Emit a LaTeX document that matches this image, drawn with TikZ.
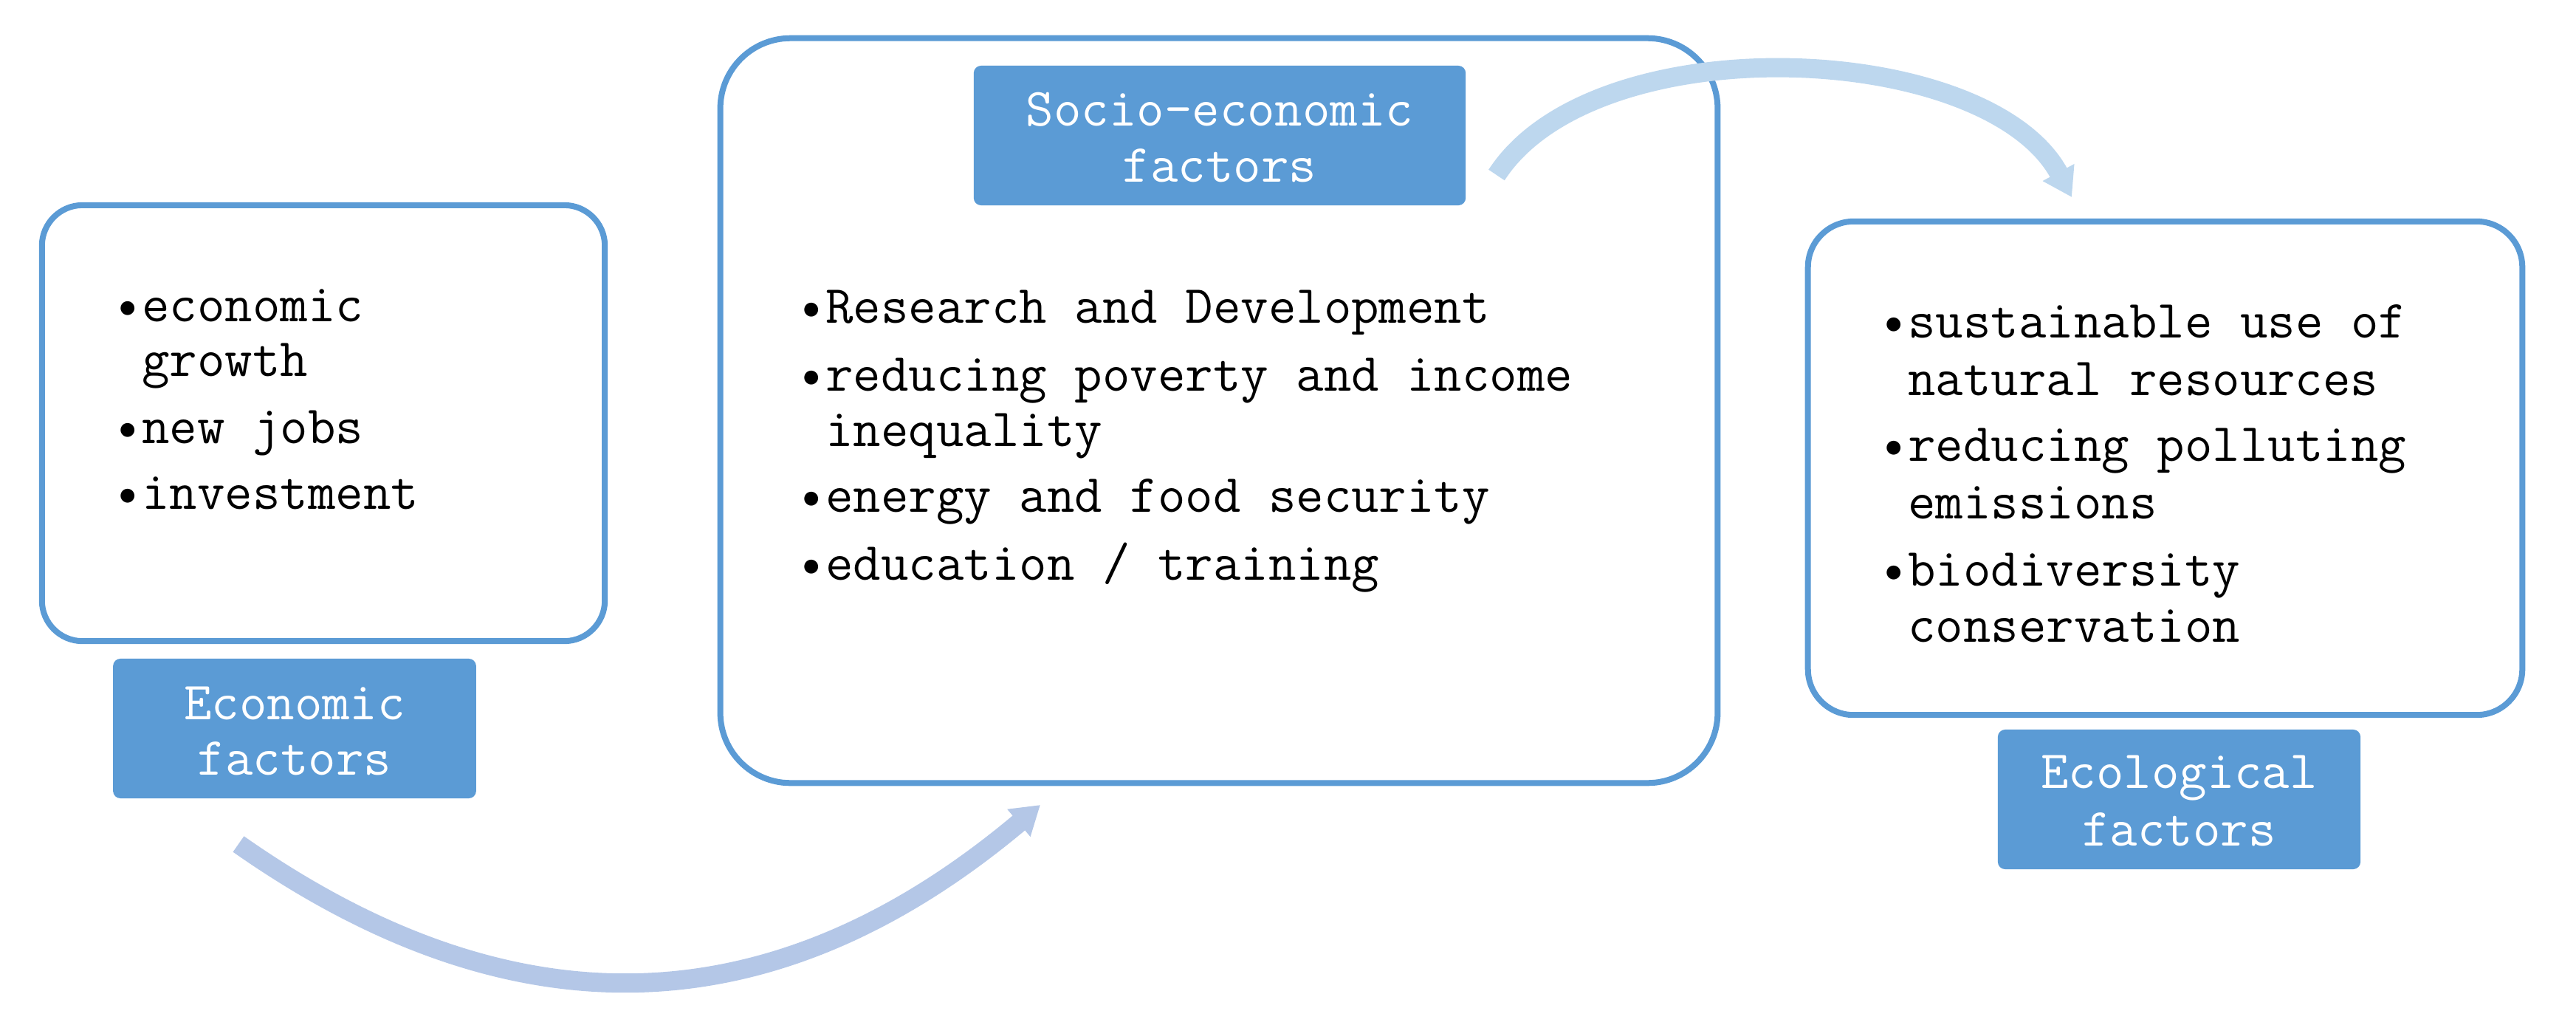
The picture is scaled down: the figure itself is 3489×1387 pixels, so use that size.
\documentclass[tikz,border=0pt]{standalone}
\usepackage{fontspec}
\setmainfont{Latin Modern Mono}
\usetikzlibrary{arrows.meta}
\definecolor{boxblue}{HTML}{5B9BD5}
\definecolor{arrowtop}{HTML}{BDD7EE}
\definecolor{arrowbot}{HTML}{B4C7E7}
\begin{document}
\begin{tikzpicture}[x=0.01cm,y=-0.01cm,
  txt/.style={anchor=base west, inner sep=0pt, font=\fontsize{20.7pt}{24pt}\selectfont, text=black},
  lbltxt/.style={anchor=base, inner sep=0pt, font=\fontsize{20.7pt}{24pt}\selectfont, text=white},
  frame/.style={draw=boxblue, line width=0.08cm, fill=white, inner sep=0pt},
  tag/.style={fill=boxblue, rounded corners=0.1cm, inner sep=0pt},
  flow/.style={line width=0.26cm, -{Triangle[length=0.38cm,width=0.46cm]}}
]
\useasboundingbox (0,0) rectangle (3489,1387);

% frames
\node[frame, rounded corners=0.55cm, minimum width=7.62cm, minimum height=5.9cm] (econbox) at (438,573) {};
\node[frame, rounded corners=0.95cm, minimum width=13.5cm, minimum height=10.08cm] (sociobox) at (1651,556) {};
\node[frame, rounded corners=0.62cm, minimum width=9.67cm, minimum height=6.68cm] (ecobox) at (2932.5,634) {};

% tags
\node[tag, minimum width=4.915cm, minimum height=1.89cm] (econtag) at (399,986.5) {};
\node[tag, minimum width=6.66cm, minimum height=1.89cm] (sociotag) at (1652,183.5) {};
\node[tag, minimum width=4.91cm, minimum height=1.89cm] (ecotag) at (2951.5,1082.5) {};

\node[lbltxt] (econtag1) at (399,974) {Economic};
\node[lbltxt] (econtag2) at (399,1049) {factors};
\node[lbltxt] (sociotag1) at (1652,170) {Socio-economic};
\node[lbltxt] (sociotag2) at (1652,246) {factors};
\node[lbltxt] (ecotag1) at (2951.5,1067) {Ecological};
\node[lbltxt] (ecotag2) at (2951.5,1145) {factors};

% left list
\node[txt] (e1) at (154,435) {\textbullet economic};
\node[txt] (e2) at (154,509) {\phantom{\textbullet}growth};
\node[txt] (e3) at (154,600) {\textbullet new jobs};
\node[txt] (e4) at (154,689) {\textbullet investment};

% middle list
\node[txt] (s1) at (1080,437) {\textbullet Research and Development};
\node[txt] (s2) at (1080,529) {\textbullet reducing poverty and income};
\node[txt] (s3) at (1080,604) {\phantom{\textbullet}inequality};
\node[txt] (s4) at (1080,693) {\textbullet energy and food security};
\node[txt] (s5) at (1080,785) {\textbullet education / training};

% right list
\node[txt] (c1) at (2546,457) {\textbullet sustainable use of};
\node[txt] (c2) at (2546,535) {\phantom{\textbullet}natural resources};
\node[txt] (c3) at (2546,624) {\textbullet reducing polluting};
\node[txt] (c4) at (2546,702) {\phantom{\textbullet}emissions};
\node[txt] (c5) at (2546,793) {\textbullet biodiversity};
\node[txt] (c6) at (2546,869) {\phantom{\textbullet}conservation};

% arrows
\coordinate (t0) at (2027,237);
\coordinate (t1) at (2806,267);
\draw[flow, arrowtop] (t0) .. controls (2160,32) and (2692,55) .. (t1);
\coordinate (b0) at (323,1143);
\coordinate (b1) at (1409,1090);
\draw[flow, arrowbot] (b0) .. controls (634,1361) and (997,1436) .. (b1);
\end{tikzpicture}
\end{document}
